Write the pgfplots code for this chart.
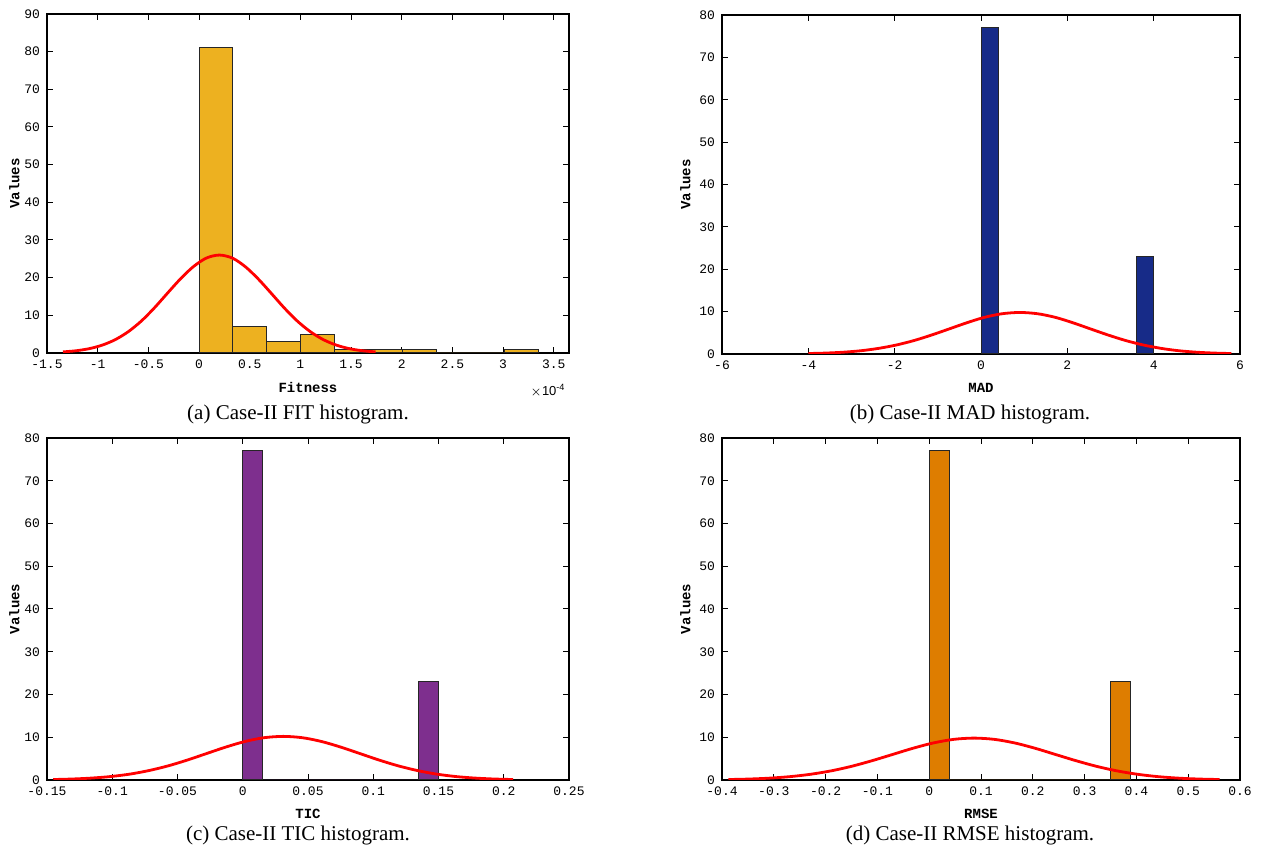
\documentclass[border=0pt]{standalone}
\usepackage{pgfplots}
\pgfplotsset{compat=1.18}
\usepackage{fontspec}
\setmainfont{Liberation Serif}
\newfontfamily\cour{Liberation Mono}
\newfontfamily\helv{Liberation Sans}

\definecolor{cfit}{RGB}{237,177,32}
\definecolor{cmad}{RGB}{23,43,136}
\definecolor{ctic}{RGB}{126,47,142}
\definecolor{crmse}{RGB}{222,125,0}

\pgfplotsset{
  hist/.style={
    scale only axis,
    anchor=south west,
    ymin=0,
    axis line style={line width=0.6pt},
    tick align=inside,
    major tick length=3pt,
    tick style={black, line width=0.5pt},
    ticklabel style={font=\cour\fontsize{6.5}{7}\selectfont},
    label style={font=\cour\bfseries\fontsize{7}{8}\selectfont},
    ylabel={Values},
    /pgf/number format/assume math mode=true,
    scaled ticks=false,
    xticklabel style={/pgf/number format/fixed, /pgf/number format/precision=2},
  },
  bars/.style={ybar interval, fill=#1, draw=black!85, line width=0.5pt},
  fitcurve/.style={red, line width=1.4pt, smooth, no marks},
}

\begin{document}
\begin{tikzpicture}
\path[use as bounding box] (0,0) rectangle (632.5pt,424.5pt);

% (a) Fitness, x values in units of 1e-4
\begin{axis}[hist, at={(23.5pt,248pt)}, width=261pt, height=169.5pt,
  xmin=-1.5, xmax=3.65, ymax=90, xtick={-1.5,-1,...,3.5}, ytick={0,10,...,90},
  xlabel={Fitness}, ylabel shift=-4.5pt]
  \addplot[bars=cfit] coordinates {
    (0,81) (0.335,7) (0.67,3) (1.005,5) (1.34,1) (1.675,1) (2.01,1)
    (2.345,0) (2.68,0) (3.015,1) (3.35,1)};
  \addplot[fitcurve] coordinates {
    (-1.342,0.29) (-1.214,0.59) (-1.085,1.14) (-0.957,2.07) (-0.828,3.52)
    (-0.700,5.62) (-0.571,8.44) (-0.443,11.9) (-0.314,15.8) (-0.186,19.6)
    (-0.057,22.9) (0.072,25.2) (0.200,26.0) (0.329,25.2) (0.457,22.9)
    (0.586,19.6) (0.714,15.8) (0.843,11.9) (0.971,8.44) (1.100,5.62)
    (1.228,3.52) (1.357,2.07) (1.485,1.14) (1.614,0.59) (1.742,0.29)};
\end{axis}
\node[font=\helv\fontsize{6.5}{7}\selectfont] at (274pt,229pt) {$\times$10\textsuperscript{-4}};

% (b) MAD
\begin{axis}[hist, at={(361pt,247.5pt)}, width=259pt, height=169.5pt,
  xmin=-6, xmax=6, ymax=80, xtick={-6,-4,...,6}, ytick={0,10,...,80},
  xlabel={MAD}, ylabel shift=-2.5pt]
  \addplot[bars=cmad] coordinates {
    (0,77) (0.4,0) (0.8,0) (1.2,0) (1.6,0) (2.0,0) (2.4,0) (2.8,0)
    (3.2,0) (3.6,23) (4.0,23)};
  \addplot[fitcurve] coordinates {
    (-4.00,0.11) (-3.59,0.22) (-3.18,0.43) (-2.77,0.78) (-2.37,1.33)
    (-1.96,2.12) (-1.55,3.18) (-1.14,4.49) (-0.73,5.94) (-0.32,7.40)
    (0.08,8.65) (0.49,9.50) (0.90,9.80) (1.31,9.50) (1.72,8.65)
    (2.12,7.40) (2.53,5.94) (2.94,4.49) (3.35,3.18) (3.76,2.12)
    (4.17,1.33) (4.57,0.78) (4.98,0.43) (5.39,0.22) (5.80,0.11)};
\end{axis}

% (c) TIC
\begin{axis}[hist, at={(23.5pt,34.5pt)}, width=261pt, height=171pt,
  xmin=-0.15, xmax=0.25, ymax=80, xtick={-0.15,-0.1,-0.05,0,0.05,0.1,0.15,0.2,0.25},
  ytick={0,10,...,80}, xlabel={TIC}, ylabel shift=-4.5pt]
  \addplot[bars=ctic] coordinates {
    (0,77) (0.015,0) (0.03,0) (0.045,0) (0.06,0) (0.075,0) (0.09,0)
    (0.105,0) (0.12,0) (0.135,23) (0.15,23)};
  \addplot[fitcurve] coordinates {
    (-0.1452,0.11) (-0.1305,0.23) (-0.1158,0.45) (-0.1011,0.81) (-0.0864,1.38)
    (-0.0718,2.21) (-0.0571,3.31) (-0.0424,4.67) (-0.0277,6.19) (-0.0130,7.70)
    (0.0016,9.00) (0.0163,9.89) (0.0310,10.2) (0.0457,9.89) (0.0604,9.00)
    (0.0750,7.70) (0.0897,6.19) (0.1044,4.67) (0.1191,3.31) (0.1338,2.21)
    (0.1484,1.38) (0.1631,0.81) (0.1778,0.45) (0.1925,0.23) (0.2072,0.11)};
\end{axis}

% (d) RMSE
\begin{axis}[hist, at={(361pt,34.5pt)}, width=259pt, height=171pt,
  xmin=-0.4, xmax=0.6, ymax=80, xtick={-0.4,-0.3,...,0.6}, ytick={0,10,...,80},
  xlabel={RMSE}, ylabel shift=-2.5pt]
  \addplot[bars=crmse] coordinates {
    (0,77) (0.0389,0) (0.0778,0) (0.1167,0) (0.1556,0) (0.1945,0) (0.2334,0)
    (0.2723,0) (0.3112,0) (0.3501,23) (0.389,23)};
  \addplot[fitcurve] coordinates {
    (-0.3875,0.11) (-0.3480,0.22) (-0.3085,0.43) (-0.2690,0.78) (-0.2295,1.33)
    (-0.1900,2.12) (-0.1505,3.18) (-0.1110,4.49) (-0.0715,5.94) (-0.0320,7.40)
    (0.0075,8.65) (0.0470,9.50) (0.0865,9.80) (0.1260,9.50) (0.1655,8.65)
    (0.2050,7.40) (0.2445,5.94) (0.2840,4.49) (0.3235,3.18) (0.3630,2.12)
    (0.4025,1.33) (0.4420,0.78) (0.4815,0.43) (0.5210,0.22) (0.5605,0.11)};
\end{axis}

\node[font=\fontsize{10.5}{12}\selectfont] at (149pt,217.5pt) {(a) Case-II FIT histogram.};
\node[font=\fontsize{10.5}{12}\selectfont] at (485pt,217.5pt) {(b) Case-II MAD histogram.};
\node[font=\fontsize{10.5}{12}\selectfont] at (149pt,7pt) {(c) Case-II TIC histogram.};
\node[font=\fontsize{10.5}{12}\selectfont] at (485pt,7pt) {(d) Case-II RMSE histogram.};
\end{tikzpicture}
\end{document}
